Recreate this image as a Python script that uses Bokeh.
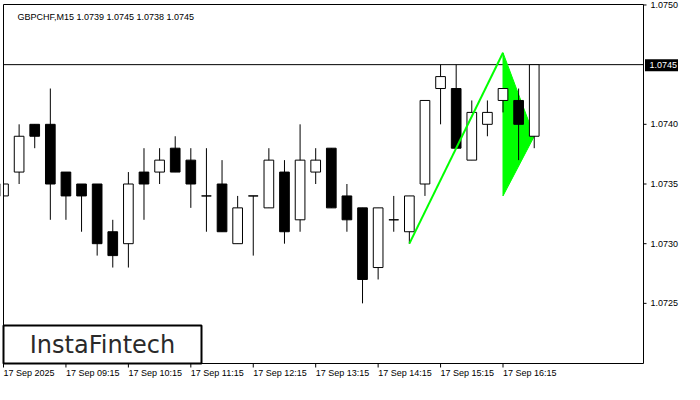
from bokeh.plotting import figure
from bokeh.models import Range1d
from bokeh.embed import file_html
from bokeh.resources import INLINE
from bokeh.core.properties import value

symbol = "GBPCHF,M15"
opens  = [1.0734, 1.0736, 1.0740, 1.0740, 1.0736, 1.0735, 1.0735, 1.0731, 1.0730, 1.0736,
          1.0736, 1.0738, 1.0737, 1.0734, 1.0735, 1.0730, 1.0734, 1.0733, 1.0736, 1.0732,
          1.0736, 1.0738, 1.0734, 1.0733, 1.0728, 1.0732, 1.0731, 1.0735, 1.0743, 1.0743,
          1.0737, 1.0740, 1.0742, 1.0742, 1.0739]
highs  = [1.0735, 1.0740, 1.0740, 1.0743, 1.0736, 1.0735, 1.0735, 1.0732, 1.0736, 1.0738,
          1.0738, 1.0739, 1.0738, 1.0738, 1.0737, 1.0734, 1.0734, 1.0738, 1.0737, 1.0740,
          1.0738, 1.0738, 1.0735, 1.0733, 1.0733, 1.0734, 1.0734, 1.0742, 1.0745, 1.0745,
          1.0742, 1.0742, 1.0743, 1.0743, 1.0745]
lows   = [1.0734, 1.0735, 1.0738, 1.0732, 1.0732, 1.0731, 1.0729, 1.0728, 1.0728, 1.0732,
          1.0735, 1.0736, 1.0733, 1.0731, 1.0731, 1.0730, 1.0729, 1.0733, 1.0730, 1.0731,
          1.0735, 1.0733, 1.0731, 1.0725, 1.0727, 1.0731, 1.0730, 1.0734, 1.0740, 1.0738,
          1.0737, 1.0739, 1.0741, 1.0737, 1.0738]
closes = [1.0735, 1.0739, 1.0739, 1.0735, 1.0734, 1.0734, 1.0730, 1.0729, 1.0735, 1.0735,
          1.0737, 1.0736, 1.0735, 1.0734, 1.0731, 1.0733, 1.0734, 1.0737, 1.0731, 1.0737,
          1.0737, 1.0733, 1.0732, 1.0727, 1.0733, 1.0732, 1.0734, 1.0742, 1.0744, 1.0738,
          1.0741, 1.0741, 1.0743, 1.0740, 1.0745]

tick_idx = [0, 4, 8, 12, 16, 20, 24, 28, 32]
tick_labels = ["17 Sep 2025", "17 Sep 09:15", "17 Sep 10:15", "17 Sep 11:15", "17 Sep 12:15",
               "17 Sep 13:15", "17 Sep 14:15", "17 Sep 15:15", "17 Sep 16:15"]
y_ticks = [1.0725, 1.0730, 1.0735, 1.0740, 1.0750]

# flag pattern
pole_x = [26, 32]
pole_y = [1.0730, 1.0746]
flag_x = [32, 34, 32]
flag_y = [1.0746, 1.0739, 1.0734]

GREEN = "#00ff00"
FONT = "Liberation Sans"

n = len(opens)
idx = list(range(n))
X0, X1 = 0, 41                 # visible chart slots
Y0, Y1 = 1.071996, 1.075004    # visible price window

# canvas layout (pixels): the frame is drawn by hand so that axis texts are not clipped
W, H = 684, 384
FL, FR, FT, FB = 3, 643, 4, 363
dpx = (X1 - X0) / (FR - FL)
dpp = (Y1 - Y0) / (FB - FT)
XS, XE = X0 - FL * dpx, X0 + (W - FL) * dpx
YS, YE = Y0 - (H - FB) * dpp, Y1 + FT * dpp

p = figure(width=W, height=H, output_backend="svg", toolbar_location=None,
           x_range=Range1d(XS, XE), y_range=Range1d(YS, YE),
           x_axis_location=None, y_axis_location=None,
           min_border=0, min_border_left=0, min_border_right=0,
           min_border_top=0, min_border_bottom=0)
p.background_fill_color = "white"
p.border_fill_color = "white"
p.outline_line_color = None
p.grid.visible = False

# current price line
last = closes[-1]
p.segment(x0=[X0], y0=[last], x1=[X1], y1=[last], line_color="black", line_width=1)

# flag
p.patch(flag_x, flag_y, fill_color=GREEN, line_color=GREEN, line_width=1)

# candles
bull = [c >= o for o, c in zip(opens, closes)]
src = dict(
    x=idx, high=highs, low=lows,
    top=[max(o, c) for o, c in zip(opens, closes)],
    bottom=[min(o, c) for o, c in zip(opens, closes)],
    fill=["white" if b else "black" for b in bull],
)
p.segment(x0="x", y0="high", x1="x", y1="low", source=src, line_color="black", line_width=1)
p.vbar(x="x", width=0.62, top="top", bottom="bottom", source=src,
       fill_color="fill", line_color="black", line_width=1)

# pole
p.line(pole_x, pole_y, line_color=GREEN, line_width=2)

# mask left of the frame, then the frame itself
p.quad(left=[XS], right=[X0], bottom=[YS], top=[YE], fill_color="white", line_color=None)
p.quad(left=[X0], right=[X1], bottom=[Y0], top=[Y1], fill_color=None,
       line_color="black", line_width=1)

# right price axis
p.segment(x0=[X1] * len(y_ticks), y0=y_ticks, x1=[X1 + 3 * dpx] * len(y_ticks), y1=y_ticks,
          line_color="black", line_width=1)
p.text(x=[X1 + 7 * dpx] * len(y_ticks), y=y_ticks, text=[f"{t:.4f}" for t in y_ticks],
       text_font=value(FONT), text_font_size="9px", text_color="black",
       text_baseline="middle", text_align="left")

# bottom time axis
p.segment(x0=tick_idx, y0=[Y0] * len(tick_idx), x1=tick_idx, y1=[Y0 - 4 * dpp] * len(tick_idx),
          line_color="black", line_width=1)
p.text(x=tick_idx, y=[Y0 - 4 * dpp] * len(tick_idx), text=tick_labels,
       text_font=value(FONT), text_font_size="9px", text_color="black",
       text_baseline="top", text_align="left")

# price tag
p.quad(left=[X1 + 1.5 * dpx], right=[X1 + 34.5 * dpx], bottom=[last - 6.5 * dpp],
       top=[last + 5.5 * dpp], fill_color="black", line_color=None)
p.text(x=[X1 + 6 * dpx], y=[last], text=[f"{last:.4f}"], text_font=value(FONT),
       text_font_size="9px", text_color="white", text_baseline="middle", text_align="left")

# title
title = f"{symbol}  {opens[-1]:.4f} {highs[-1]:.4f} {lows[-1]:.4f} {closes[-1]:.4f}"
p.text(x=[X0 + 14 * dpx], y=[Y1 - 12 * dpp], text=[title], text_font=value(FONT),
       text_font_size="9px", text_color="black", text_baseline="middle", text_align="left")

# logo
p.quad(left=[X0], right=[X0 + 198 * dpx], bottom=[Y0], top=[Y0 + 38 * dpp],
       fill_color="white", line_color="black", line_width=2)
p.text(x=[X0 + 99 * dpx], y=[Y0 + 19 * dpp], text=["InstaFintech"], text_font=value("DejaVu Sans"),
       text_font_size="24px", text_color="#2a2a2a", text_baseline="middle", text_align="center")

open("out.html", "w").write(file_html(p, INLINE))
